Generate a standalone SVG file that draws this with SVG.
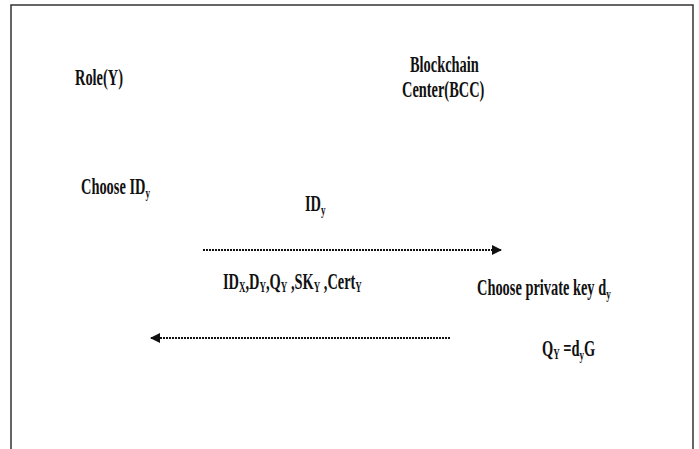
<svg xmlns="http://www.w3.org/2000/svg" width="699" height="449" viewBox="0 0 699 449">
<style>
text{font-family:"Liberation Serif","Times New Roman",serif;font-weight:bold;font-size:24px;fill:#111}
.s{font-size:15px}
.c{fill:none;stroke:#111;stroke-width:2;stroke-dasharray:2 1}
</style>
<defs>
<marker id="ah" viewBox="0 0 10 10" refX="9" refY="5" markerWidth="10" markerHeight="10" markerUnits="userSpaceOnUse" orient="auto">
<path d="M0 0L10 5L0 10z" fill="#111"/>
</marker>
</defs>
<rect width="699" height="449" fill="#fff"/>
<path d="M11 449V5H693V449" fill="none" stroke="#333" stroke-width="1.5"/>
<g id="role"><text transform="translate(75,85) scale(0.6,1)">Role(Y)</text></g>
<g id="bcc"><text transform="translate(410,72) scale(0.6,1)">Blockchain</text><text transform="translate(402,97) scale(0.6,1)">Center(BCC)</text></g>
<g id="choose-id"><text transform="translate(81,194) scale(0.6,1)">Choose ID<tspan class="s" dy="4">y</tspan></text></g>
<g id="choose-key"><text transform="translate(477,295) scale(0.6,1)">Choose private key d<tspan class="s" dy="4">y</tspan></text></g>
<g id="qy"><text transform="translate(542,356) scale(0.6,1)">Q<tspan class="s" dy="3">Y</tspan><tspan dy="-3"> =d</tspan><tspan class="s" dy="4">y</tspan><tspan dy="-4">G</tspan></text></g>
<g id="connectors">
<line class="c" x1="203" y1="250" x2="501" y2="250" marker-end="url(#ah)"/>
<line class="c" x1="450" y1="338" x2="151" y2="338" marker-end="url(#ah)"/>
<text transform="translate(305,211) scale(0.6,1)">ID<tspan class="s" dy="4">y</tspan></text>
<text transform="translate(223,289) scale(0.6,1)">ID<tspan class="s" dy="3">X</tspan><tspan dy="-3">,D</tspan><tspan class="s" dy="3">Y</tspan><tspan dy="-3">,Q</tspan><tspan class="s" dy="3">Y</tspan><tspan dy="-3"> ,SK</tspan><tspan class="s" dy="3">Y</tspan><tspan dy="-3"> ,Cert</tspan><tspan class="s" dy="3">Y</tspan></text>
</g>
</svg>
